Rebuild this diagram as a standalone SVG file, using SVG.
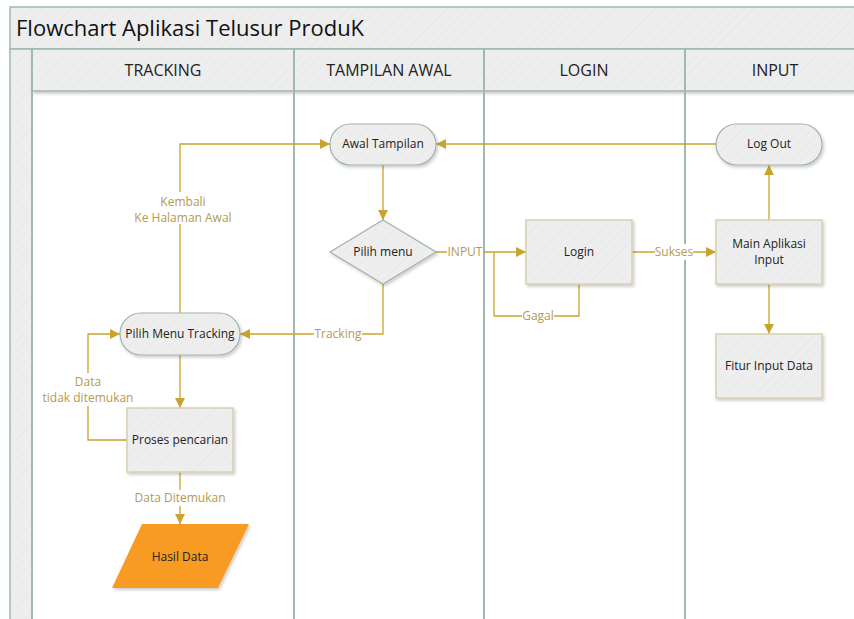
<svg xmlns="http://www.w3.org/2000/svg" width="854" height="619" viewBox="0 0 854 619">
<defs>
<pattern id="stripe" width="7" height="7" patternUnits="userSpaceOnUse" patternTransform="rotate(45)">
<rect width="7" height="7" fill="#EEEEEE"/>
<line x1="0" y1="0" x2="0" y2="7" stroke="#E7E7E7" stroke-width="1.2"/>
</pattern>
<filter id="sh" x="-10%" y="-10%" width="130%" height="140%">
<feDropShadow dx="1.5" dy="2" stdDeviation="1.5" flood-color="#000" flood-opacity="0.2"/>
</filter>
<marker id="arr" viewBox="0 0 10 10" refX="10" refY="5" markerWidth="10" markerHeight="10" markerUnits="userSpaceOnUse" orient="auto">
<path d="M0,0 L10,5 L0,10 Z" fill="#C9A42C"/>
</marker>
</defs>
<style>
.lane{fill:url(#stripe);stroke:#9FB8B0;stroke-width:1.5}
.div{stroke:#9FB8B0;stroke-width:2}
.hdr{font-family:"Open Sans","Noto Sans",sans-serif;font-size:16px;fill:#222;text-anchor:middle}
.title{font-family:"Open Sans","Noto Sans",sans-serif;font-size:22px;fill:#111}
.pill{fill:url(#stripe);stroke:#9FB3AC;stroke-width:1.2;filter:url(#sh)}
.box{fill:url(#stripe);stroke:#D8D0AE;stroke-width:1.5;filter:url(#sh)}
.nt{font-family:"Open Sans","Noto Sans",sans-serif;font-size:12px;fill:#222;text-anchor:middle}
.cn{fill:none;stroke:#C9A42C;stroke-width:1.3}
.lb{font-family:"Open Sans","Noto Sans",sans-serif;font-size:12px;fill:#B59A4C;text-anchor:middle}
.lbg{fill:#fff}
</style>
<rect width="854" height="619" fill="#fff"/>
<g id="swimlane">
<rect class="lane" x="10" y="7" width="850" height="42"/>
<text class="title" x="16" y="36">Flowchart Aplikasi Telusur ProduK</text>
<rect class="lane" x="10" y="49" width="22" height="580"/>
<rect class="lane" x="32" y="49" width="830" height="42" filter="url(#sh)"/>
<line class="div" x1="32" y1="49" x2="32" y2="619"/>
<line class="div" x1="294" y1="49" x2="294" y2="619"/>
<line class="div" x1="484" y1="49" x2="484" y2="619"/>
<line class="div" x1="685" y1="49" x2="685" y2="619"/>
<text class="hdr" x="163" y="76">TRACKING</text>
<text class="hdr" x="389" y="76">TAMPILAN AWAL</text>
<text class="hdr" x="584" y="76">LOGIN</text>
<text class="hdr" x="775" y="76">INPUT</text>
</g>
<g id="connectors">
<path class="cn" d="M716,144 H436" marker-end="url(#arr)"/>
<path class="cn" d="M383,165 V220" marker-end="url(#arr)"/>
<path class="cn" d="M436,252 H526" marker-end="url(#arr)"/>
<path class="cn" d="M579,284 V316 H494 V252"/>
<path class="cn" d="M632,252 H716" marker-end="url(#arr)"/>
<path class="cn" d="M769,220 V165" marker-end="url(#arr)"/>
<path class="cn" d="M769,284 V334" marker-end="url(#arr)"/>
<path class="cn" d="M383,284 V334 H240" marker-end="url(#arr)"/>
<path class="cn" d="M180,313 V144 H330" marker-end="url(#arr)"/>
<path class="cn" d="M180,355 V408" marker-end="url(#arr)"/>
<path class="cn" d="M127,440 H88 V334 H120" marker-end="url(#arr)"/>
<path class="cn" d="M180,472 V524" marker-end="url(#arr)"/>
<rect class="lbg" x="447" y="244" width="36" height="16"/>
<text class="lb" x="465" y="256">INPUT</text>
<rect class="lbg" x="522" y="308" width="32" height="16"/>
<text class="lb" x="538" y="320">Gagal</text>
<rect class="lbg" x="655" y="244" width="38" height="16"/>
<text class="lb" x="674" y="256">Sukses</text>
<rect class="lbg" x="314" y="326" width="48" height="16"/>
<text class="lb" x="338" y="338">Tracking</text>
<rect class="lbg" x="134" y="192" width="100" height="32"/>
<text class="lb" x="183" y="206">Kembali</text>
<text class="lb" x="183" y="222">Ke Halaman Awal</text>
<rect class="lbg" x="44" y="373" width="90" height="33"/>
<text class="lb" x="88" y="386">Data</text>
<text class="lb" x="88" y="402">tidak ditemukan</text>
<rect class="lbg" x="136" y="490" width="88" height="16"/>
<text class="lb" x="180" y="502">Data Ditemukan</text>
</g>
<g id="awal-tampilan">
<rect class="pill" x="330" y="124" width="106" height="41" rx="20.5"/>
<text class="nt" x="383" y="148">Awal Tampilan</text>
</g>
<g id="pilih-menu">
<polygon class="pill" points="383,220 436,252 383,284 330,252"/>
<text class="nt" x="383" y="256">Pilih menu</text>
</g>
<g id="login">
<rect class="box" x="526" y="220" width="106" height="64"/>
<text class="nt" x="579" y="256">Login</text>
</g>
<g id="main-aplikasi">
<rect class="box" x="716" y="220" width="106" height="64"/>
<text class="nt" x="769" y="248">Main Aplikasi</text>
<text class="nt" x="769" y="264">Input</text>
</g>
<g id="log-out">
<rect class="pill" x="716" y="124" width="106" height="41" rx="20.5"/>
<text class="nt" x="769" y="148">Log Out</text>
</g>
<g id="fitur-input">
<rect class="box" x="716" y="334" width="106" height="64"/>
<text class="nt" x="769" y="370">Fitur Input Data</text>
</g>
<g id="pilih-menu-tracking">
<rect class="pill" x="120" y="313" width="120" height="42" rx="21"/>
<text class="nt" x="180" y="338">Pilih Menu Tracking</text>
</g>
<g id="proses-pencarian">
<rect class="box" x="127" y="408" width="106" height="64"/>
<text class="nt" x="180" y="444">Proses pencarian</text>
</g>
<g id="hasil-data">
<polygon points="142,524 249,524 218,588 112,588" fill="#F79B22" filter="url(#sh)"/>
<text class="nt" x="180" y="561">Hasil Data</text>
</g>
</svg>
